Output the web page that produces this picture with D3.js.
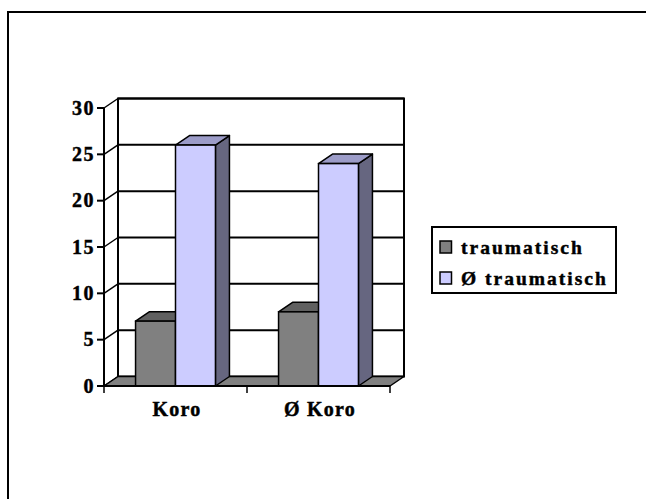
<!DOCTYPE html>
<html>
<head>
<meta charset="utf-8">
<script src="https://cdn.jsdelivr.net/npm/d3@7"></script>
<style>
  html, body { margin: 0; padding: 0; background: #fff; overflow: hidden; }
  svg { display: block; }
</style>
</head>
<body>
<svg id="chart" width="646" height="499"></svg>
<script>
// ---- data ----
const categories = ["Koro", "Ø Koro"];
const seriesNames = ["traumatisch", "Ø traumatisch"];
const traumatisch = [7, 8];
const nichtTraumatisch = [26, 24];
const yTicks = [0, 5, 10, 15, 20, 25, 30];

const seriesValues = [traumatisch, nichtTraumatisch];
const seriesColors = [
  { front: "#808080", top: "#606060", side: "#505050" },
  { front: "#CCCCFF", top: "#9C9CC8", side: "#666680" }
];
const FONT = "'Liberation Serif', 'Times New Roman', 'DejaVu Serif', serif";

const svg = d3.select("#chart");

// outer frame (extends beyond right/bottom edges)
svg.append("rect").attr("x", 8).attr("y", 12).attr("width", 660).attr("height", 520)
  .attr("fill", "none").attr("stroke", "#000").attr("stroke-width", 2);

// geometry
const dx = 14, dy = -9.5;
const x = d3.scaleBand().domain(categories).range([104, 390]).padding(0);
const xs = d3.scaleBand().domain(seriesNames).range([0, x.bandwidth()]).paddingInner(0).paddingOuter(0.79);
const y = d3.scaleLinear().domain([0, 30]).range([386, 108]);

const x0 = x.range()[0], x1 = x.range()[1];
const g = svg.append("g");

function txt(sel) {
  return sel.attr("font-family", FONT).attr("font-weight", "bold").attr("fill", "#000")
    .attr("stroke", "#000").attr("stroke-width", 0.45);
}

// back wall
g.append("rect").attr("x", x0 + dx).attr("y", y(30) + dy)
  .attr("width", x1 - x0).attr("height", y(0) - y(30))
  .attr("fill", "#fff").attr("stroke", "#000").attr("stroke-width", 2);

// gridlines on back wall + left wall diagonals
yTicks.forEach(t => {
  if (t > 0) {
    g.append("line").attr("x1", x0 + dx).attr("x2", x1 + dx)
      .attr("y1", y(t) + dy).attr("y2", y(t) + dy)
      .attr("stroke", "#000").attr("stroke-width", 2);
  }
  g.append("line").attr("x1", x0).attr("x2", x0 + dx)
    .attr("y1", y(t)).attr("y2", y(t) + dy)
    .attr("stroke", "#000").attr("stroke-width", 1.5);
});

// front vertical axis
g.append("line").attr("x1", x0).attr("x2", x0).attr("y1", y(0)).attr("y2", y(30))
  .attr("stroke", "#000").attr("stroke-width", 2);

// y ticks + labels
yTicks.forEach(t => {
  g.append("line").attr("x1", x0 - 7).attr("x2", x0).attr("y1", y(t)).attr("y2", y(t))
    .attr("stroke", "#000").attr("stroke-width", 2);
  txt(g.append("text")).attr("x", 95).attr("y", y(t)).attr("dy", "0.34em")
    .attr("text-anchor", "end").attr("font-size", 20).attr("letter-spacing", 1.5)
    .text(t);
});

// floor
const floorPts = [[x0, y(0)], [x1, y(0)], [x1 + dx, y(0) + dy], [x0 + dx, y(0) + dy]];
g.append("polygon").attr("points", floorPts.map(p => p.join(",")).join(" "))
  .attr("fill", "#808080").attr("stroke", "#000").attr("stroke-width", 1.5).attr("stroke-linejoin", "round");

// bars
categories.forEach((c, ci) => {
  seriesNames.forEach((s, si) => {
    const v = seriesValues[si][ci];
    const bx = x(c) + xs(s), bw = xs.bandwidth();
    const top = y(v), base = y(0);
    const col = seriesColors[si];
    g.append("polygon").attr("points", [
      [bx + bw, base], [bx + bw + dx, base + dy], [bx + bw + dx, top + dy], [bx + bw, top]
    ].map(p => p.join(",")).join(" "))
      .attr("fill", col.side).attr("stroke", "#000").attr("stroke-width", 1.5).attr("stroke-linejoin", "round");
    g.append("polygon").attr("points", [
      [bx, top], [bx + dx, top + dy], [bx + bw + dx, top + dy], [bx + bw, top]
    ].map(p => p.join(",")).join(" "))
      .attr("fill", col.top).attr("stroke", "#000").attr("stroke-width", 1.5).attr("stroke-linejoin", "round");
    g.append("rect").attr("x", bx).attr("y", top).attr("width", bw).attr("height", base - top)
      .attr("fill", col.front).attr("stroke", "#000").attr("stroke-width", 1.5);
  });
});

// x axis line and ticks
g.append("line").attr("x1", x0).attr("x2", x1).attr("y1", y(0)).attr("y2", y(0))
  .attr("stroke", "#000").attr("stroke-width", 2);
[x0, x(categories[1]), x1].forEach(tx => {
  g.append("line").attr("x1", tx).attr("x2", tx).attr("y1", y(0)).attr("y2", y(0) + 7)
    .attr("stroke", "#000").attr("stroke-width", 1.5);
});
categories.forEach(c => {
  txt(g.append("text")).attr("x", x(c) + x.bandwidth() / 2 + 1.5).attr("y", 416)
    .attr("text-anchor", "middle").attr("font-size", 20).attr("letter-spacing", 1.2)
    .text(c);
});

// legend
const lg = svg.append("g");
lg.append("rect").attr("x", 432).attr("y", 227).attr("width", 184).attr("height", 66)
  .attr("fill", "#fff").attr("stroke", "#000").attr("stroke-width", 2);
seriesNames.forEach((s, i) => {
  const ly = 241 + i * 31;
  lg.append("rect").attr("x", 440).attr("y", ly).attr("width", 11.5).attr("height", 12)
    .attr("fill", seriesColors[i].front).attr("stroke", "#000").attr("stroke-width", 1.5);
  txt(lg.append("text")).attr("x", 461).attr("y", ly + 12.5).attr("font-size", 19.5)
    .attr("letter-spacing", 2).text(s);
});
</script>
</body>
</html>
